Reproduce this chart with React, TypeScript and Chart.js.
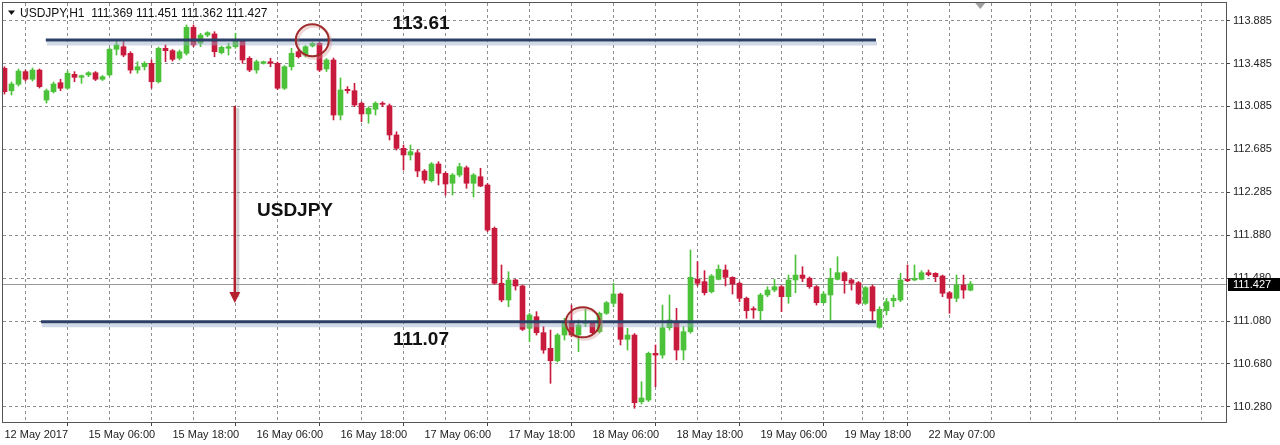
import React, { useEffect, useRef } from 'react';
import { Chart, registerables } from 'chart.js';

Chart.register(...registerables);

// ---- USDJPY H1 candles (bar index 0 = 12 May 2017 18:00) ----
const opens = [
  113.440, 113.231, 113.291, 113.409, 113.338, 113.424, 113.144, 113.222, 113.306, 113.254,
  113.384, 113.356, 113.378, 113.399, 113.338, 113.378, 113.618, 113.642, 113.580, 113.424,
  113.455, 113.487, 113.315, 113.627, 113.605, 113.534, 113.580, 113.823, 113.674, 113.751,
  113.761, 113.586, 113.627, 113.642, 113.698, 113.534, 113.424, 113.487, 113.502, 113.487,
  113.254, 113.455, 113.595, 113.564, 113.649, 113.674, 113.434, 113.518, 113.004, 113.244,
  113.231, 113.114, 113.014, 113.058, 113.114, 113.091, 112.818, 112.693, 112.631, 112.652,
  112.481, 112.391, 112.547, 112.460, 112.367, 112.444, 112.512, 112.367, 112.428, 112.351,
  111.946, 111.433, 111.277, 111.464, 111.408, 111.013, 111.121, 110.972, 110.826, 110.710,
  110.950, 111.059, 110.950, 111.059, 111.059, 110.981, 111.153, 111.246, 111.333, 110.910,
  110.950, 110.327, 110.343, 110.779, 110.763, 111.018, 111.074, 110.810, 110.981, 111.470,
  111.448, 111.354, 111.470, 111.557, 111.489, 111.433, 111.293, 111.196, 111.177, 111.324,
  111.370, 111.401, 111.308, 111.464, 111.510, 111.480, 111.401, 111.252, 111.324, 111.470,
  111.532, 111.464, 111.439, 111.246, 111.401, 111.022, 111.177, 111.270, 111.277, 111.470,
  111.464, 111.470, 111.532, 111.526, 111.501, 111.345, 111.293, 111.417, 111.369,
];
const highs = [
  113.455, 113.312, 113.434, 113.424, 113.443, 113.434, 113.247, 113.312, 113.338, 113.415,
  113.409, 113.378, 113.409, 113.410, 113.373, 113.630, 113.689, 113.689, 113.595, 113.502,
  113.502, 113.518, 113.639, 113.658, 113.616, 113.611, 113.845, 113.845, 113.767, 113.782,
  113.782, 113.649, 113.674, 113.767, 113.705, 113.549, 113.518, 113.508, 113.534, 113.499,
  113.466, 113.627, 113.611, 113.653, 113.686, 113.686, 113.532, 113.536, 113.350, 113.269,
  113.300, 113.126, 113.082, 113.128, 113.128, 113.107, 112.848, 112.724, 112.724, 112.677,
  112.495, 112.561, 112.568, 112.472, 112.458, 112.553, 112.528, 112.458, 112.507, 112.365,
  111.959, 111.604, 111.541, 111.470, 111.417, 111.153, 111.168, 111.028, 110.997, 110.964,
  111.106, 111.230, 111.090, 111.190, 111.074, 111.165, 111.263, 111.433, 111.342, 111.013,
  110.964, 110.514, 110.791, 110.857, 111.230, 111.324, 111.199, 111.028, 111.744, 111.635,
  111.551, 111.515, 111.604, 111.604, 111.494, 111.445, 111.305, 111.214, 111.340, 111.401,
  111.470, 111.412, 111.510, 111.697, 111.588, 111.492, 111.412, 111.354, 111.573, 111.681,
  111.543, 111.473, 111.450, 111.403, 111.417, 111.214, 111.293, 111.324, 111.526, 111.604,
  111.604, 111.551, 111.557, 111.532, 111.510, 111.356, 111.510, 111.510, 111.451,
];
const lows = [
  113.200, 113.191, 113.275, 113.322, 113.322, 113.256, 113.116, 113.210, 113.231, 113.247,
  113.315, 113.300, 113.362, 113.326, 113.326, 113.368, 113.564, 113.549, 113.394, 113.394,
  113.424, 113.254, 113.303, 113.502, 113.508, 113.518, 113.564, 113.642, 113.642, 113.735,
  113.549, 113.574, 113.564, 113.627, 113.487, 113.409, 113.394, 113.480, 113.455, 113.242,
  113.242, 113.424, 113.536, 113.546, 113.639, 113.410, 113.410, 112.958, 112.958, 113.207,
  113.082, 112.942, 112.927, 113.004, 113.082, 112.771, 112.677, 112.491, 112.584, 112.428,
  112.367, 112.379, 112.351, 112.257, 112.257, 112.428, 112.320, 112.239, 112.335, 111.915,
  111.422, 111.261, 111.214, 111.370, 110.992, 110.888, 110.950, 110.779, 110.499, 110.698,
  110.903, 110.934, 110.794, 111.028, 110.959, 110.969, 111.142, 111.214, 110.857, 110.810,
  110.266, 110.306, 110.329, 110.467, 110.733, 110.997, 110.717, 110.717, 110.966, 111.408,
  111.324, 111.342, 111.464, 111.408, 111.333, 111.261, 111.106, 111.106, 111.090, 111.308,
  111.354, 111.168, 111.246, 111.345, 111.448, 111.386, 111.230, 111.246, 111.090, 111.464,
  111.340, 111.370, 111.235, 111.235, 111.090, 111.013, 111.137, 111.214, 111.261, 111.448,
  111.457, 111.464, 111.501, 111.448, 111.308, 111.153, 111.261, 111.293, 111.362,
];
const closes = [
  113.222, 113.294, 113.415, 113.338, 113.424, 113.269, 113.231, 113.294, 113.254, 113.394,
  113.356, 113.371, 113.399, 113.338, 113.362, 113.618, 113.658, 113.564, 113.424, 113.455,
  113.487, 113.315, 113.627, 113.605, 113.524, 113.595, 113.823, 113.658, 113.751, 113.773,
  113.595, 113.636, 113.642, 113.705, 113.518, 113.424, 113.502, 113.502, 113.487, 113.254,
  113.455, 113.580, 113.549, 113.642, 113.674, 113.424, 113.518, 113.004, 113.238, 113.231,
  113.098, 113.014, 113.067, 113.114, 113.104, 112.818, 112.693, 112.631, 112.662, 112.481,
  112.397, 112.547, 112.460, 112.360, 112.444, 112.522, 112.367, 112.444, 112.341, 111.930,
  111.433, 111.277, 111.464, 111.408, 111.003, 111.137, 110.972, 110.810, 110.710, 110.950,
  111.059, 110.950, 111.044, 111.074, 110.972, 111.153, 111.252, 111.333, 110.910, 110.950,
  110.318, 110.362, 110.779, 110.763, 111.018, 111.090, 110.810, 110.981, 111.489, 111.433,
  111.345, 111.501, 111.564, 111.489, 111.426, 111.293, 111.177, 111.184, 111.324, 111.370,
  111.401, 111.308, 111.464, 111.510, 111.480, 111.401, 111.252, 111.333, 111.480, 111.532,
  111.457, 111.433, 111.246, 111.392, 111.174, 111.190, 111.261, 111.293, 111.464, 111.457,
  111.480, 111.532, 111.513, 111.494, 111.340, 111.293, 111.417, 111.370, 111.427,
];

// ---- axes ----
const xTickLabels = [
  '12 May 2017', '15 May 06:00', '15 May 18:00', '16 May 06:00', '16 May 18:00', '17 May 06:00',
  '17 May 18:00', '18 May 06:00', '18 May 18:00', '19 May 06:00', '19 May 18:00', '22 May 07:00',
];
const barsPerLabel = 12;
const barsPerGrid = 6;
const daySeparatorBars = [125, 149];
const xVisibleRange = [-0.2143, 174.5];
const yTickValues = [113.885, 113.485, 113.085, 112.685, 112.285, 111.880, 111.480, 111.080, 110.680, 110.280];
const yTickLabels = ['113.885', '113.485', '113.085', '112.685', '112.285', '111.880', '111.480', '111.080', '110.680', '110.280'];
const yVisibleRange = [110.138, 114.050];

// ---- header & annotations ----
const headerText = 'USDJPY,H1  111.369 111.451 111.362 111.427';
const levelPrices = [113.705, 111.074];
const levelLabels = ['113.61', '111.07'];
const levelStartBars = [5.9, 5.2];
const levelEndBar = 124.5;
const levelLabelBar = 59.5;
const levelLabelPrices = [113.859, 110.903];
const titleLabel = 'USDJPY';
const titleBar = 41.5;
const titlePrice = 112.108;
const arrowBar = 32.9;
const arrowFromPrice = 113.088;
const arrowToPrice = 111.249;
const circleBars = [43.97, 82.6];
const circlePrices = [113.702, 111.069];
const chartShiftBar = 139.4;

const bullColor = '#4cc23a';
const bearColor = '#c81a3c';
const gridColor = '#8e8e8e';
const axisFont = "11px 'Liberation Sans', Arial, sans-serif";

export default function App() {
  const ref = useRef<HTMLCanvasElement | null>(null);

  useEffect(() => {
    const canvas = ref.current;
    if (!canvas) return;
    const n = closes.length;
    const idx = Array.from({ length: n }, (_, i) => i);
    const candleColor = (c: any) => {
      const i = c.dataIndex;
      return closes[i] >= opens[i] ? bullColor : bearColor;
    };

    const overlay = {
      id: 'overlay',
      beforeDatasetsDraw(chart: any) {
        const { ctx, chartArea: a, scales } = chart;
        const py = Math.round(scales.y.getPixelForValue(closes[n - 1])) + 0.5;
        ctx.save();
        ctx.strokeStyle = '#9a9a9a';
        ctx.lineWidth = 1;
        ctx.beginPath();
        ctx.moveTo(a.left, py);
        ctx.lineTo(a.right, py);
        ctx.stroke();
        ctx.restore();
      },
      afterDatasetsDraw(chart: any) {
        const { ctx, scales } = chart;
        const x = scales.x;
        const y = scales.y;
        ctx.save();
        // support / resistance levels
        levelPrices.forEach((p, k) => {
          const py = y.getPixelForValue(p);
          const x1 = x.getPixelForValue(levelStartBars[k]);
          const x2 = x.getPixelForValue(levelEndBar);
          ctx.fillStyle = 'rgba(150,170,200,0.45)';
          ctx.fillRect(x1 + 1, py + 1.5, x2 - x1, 4);
          ctx.strokeStyle = '#2c3f66';
          ctx.lineWidth = 3;
          ctx.beginPath();
          ctx.moveTo(x1, py);
          ctx.lineTo(x2, py);
          ctx.stroke();
          ctx.fillStyle = '#111';
          ctx.font = "bold 19px 'Liberation Sans', Arial, sans-serif";
          ctx.textAlign = 'center';
          ctx.textBaseline = 'middle';
          ctx.fillText(levelLabels[k], x.getPixelForValue(levelLabelBar), y.getPixelForValue(levelLabelPrices[k]));
        });
        // title
        ctx.fillStyle = '#111';
        ctx.font = "bold 19px 'Liberation Sans', Arial, sans-serif";
        ctx.textAlign = 'center';
        ctx.textBaseline = 'middle';
        ctx.fillText(titleLabel, x.getPixelForValue(titleBar), y.getPixelForValue(titlePrice));
        // arrow
        const ax = x.getPixelForValue(arrowBar);
        const ay1 = y.getPixelForValue(arrowFromPrice);
        const ay2 = y.getPixelForValue(arrowToPrice);
        ctx.strokeStyle = 'rgba(120,120,120,0.35)';
        ctx.lineWidth = 3;
        ctx.beginPath();
        ctx.moveTo(ax + 3, ay1 + 2);
        ctx.lineTo(ax + 3, ay2 - 6);
        ctx.stroke();
        ctx.strokeStyle = '#b5202e';
        ctx.lineWidth = 2.5;
        ctx.beginPath();
        ctx.moveTo(ax, ay1);
        ctx.lineTo(ax, ay2 - 8);
        ctx.stroke();
        ctx.fillStyle = '#b5202e';
        ctx.beginPath();
        ctx.moveTo(ax - 5.5, ay2 - 11);
        ctx.lineTo(ax + 5.5, ay2 - 11);
        ctx.lineTo(ax, ay2);
        ctx.closePath();
        ctx.fill();
        // circles
        const radii = [[16.5, 16], [17, 15]];
        circleBars.forEach((b, k) => {
          const cx = x.getPixelForValue(b);
          const cy = y.getPixelForValue(circlePrices[k]);
          ctx.strokeStyle = 'rgba(210,140,140,0.35)';
          ctx.lineWidth = 3;
          ctx.beginPath();
          ctx.ellipse(cx + 2, cy + 2, radii[k][0], radii[k][1], 0, 0, Math.PI * 2);
          ctx.stroke();
          ctx.strokeStyle = '#9e2a2b';
          ctx.lineWidth = 2;
          ctx.beginPath();
          ctx.ellipse(cx, cy, radii[k][0], radii[k][1], 0, 0, Math.PI * 2);
          ctx.stroke();
        });
        ctx.restore();
      },
      afterDraw(chart: any) {
        const { ctx, chartArea: a, scales } = chart;
        ctx.save();
        // frame
        ctx.strokeStyle = '#555';
        ctx.lineWidth = 1;
        ctx.strokeRect(a.left - 0.5, a.top - 0.5, a.right - a.left + 1, a.bottom - a.top + 1);
        // header
        ctx.fillStyle = '#111';
        ctx.beginPath();
        ctx.moveTo(8, 10.5);
        ctx.lineTo(15, 10.5);
        ctx.lineTo(11.5, 15);
        ctx.closePath();
        ctx.fill();
        ctx.font = "12px 'Liberation Sans', Arial, sans-serif";
        ctx.textAlign = 'left';
        ctx.textBaseline = 'alphabetic';
        ctx.fillText(headerText, 20, 17);
        // chart shift marker
        const sx = scales.x.getPixelForValue(chartShiftBar);
        ctx.fillStyle = '#a0a0a0';
        ctx.beginPath();
        ctx.moveTo(sx - 5, a.top);
        ctx.lineTo(sx + 5, a.top);
        ctx.lineTo(sx, a.top + 6);
        ctx.closePath();
        ctx.fill();
        // current price box
        const last = closes[n - 1];
        const py = Math.round(scales.y.getPixelForValue(last)) + 0.5;
        ctx.fillStyle = '#000';
        ctx.fillRect(a.right + 2, py - 6.5, 52, 13);
        ctx.fillStyle = '#fff';
        ctx.font = axisFont;
        ctx.textBaseline = 'middle';
        ctx.fillText(last.toFixed(3), a.right + 7, py + 0.5);
        ctx.restore();
      },
    };

    const xTicks: number[] = [];
    for (let v = 0; v <= xVisibleRange[1]; v += barsPerGrid) xTicks.push(v);
    daySeparatorBars.forEach((b) => xTicks.push(b));
    xTicks.sort((p, q) => p - q);
    const isLabelTick = (v: number) => v % barsPerLabel === 0 && v / barsPerLabel < xTickLabels.length;

    const chart = new Chart(canvas, {
      type: 'bar',
      data: {
        datasets: [
          {
            label: 'wick',
            data: idx.map((i) => ({ x: i, y: [lows[i], highs[i]] })) as any,
            backgroundColor: candleColor as any,
            borderWidth: 0,
            barThickness: 1,
            grouped: false,
            order: 2,
          } as any,
          {
            label: 'body',
            data: idx.map((i) => ({ x: i, y: [opens[i], closes[i]] })) as any,
            backgroundColor: candleColor as any,
            borderWidth: 0,
            barThickness: 5,
            minBarLength: 1,
            grouped: false,
            order: 1,
          } as any,
        ],
      },
      options: {
        animation: false,
        responsive: true,
        maintainAspectRatio: false,
        layout: { padding: { left: 3, top: 3, right: 0, bottom: 0 } },
        plugins: { legend: { display: false }, tooltip: { enabled: false } },
        scales: {
          x: {
            type: 'linear',
            min: xVisibleRange[0],
            max: xVisibleRange[1],
            offset: false,
            afterBuildTicks: (s: any) => {
              s.ticks = xTicks.map((v) => ({ value: v }));
            },
            afterFit: (s: any) => {
              s.height = 23;
              s.paddingLeft = 0;
              s.paddingRight = 0;
            },
            grid: {
              color: gridColor,
              lineWidth: 1,
              drawTicks: true,
              tickLength: 4,
              tickColor: (c: any) => (c.tick && isLabelTick(c.tick.value) ? '#444' : 'rgba(0,0,0,0)'),
            },
            border: { display: false, dash: [3, 3] },
            ticks: {
              autoSkip: false,
              maxRotation: 0,
              minRotation: 0,
              align: 'start',
              padding: 2,
              color: '#222',
              font: { family: "'Liberation Sans', Arial, sans-serif", size: 11 },
              callback: (v: any) => {
                const b = Number(v);
                return isLabelTick(b) ? xTickLabels[b / barsPerLabel] : '';
              },
            },
          } as any,
          y: {
            type: 'linear',
            position: 'right',
            min: yVisibleRange[0],
            max: yVisibleRange[1],
            afterBuildTicks: (s: any) => {
              s.ticks = yTickValues.map((v) => ({ value: v }));
            },
            afterFit: (s: any) => {
              s.width = 54;
              s.paddingTop = 0;
              s.paddingBottom = 0;
            },
            grid: {
              color: gridColor,
              lineWidth: 1,
              drawTicks: true,
              tickLength: 4,
              tickColor: '#444',
            },
            border: { display: false, dash: [3, 3] },
            ticks: {
              padding: 3,
              color: '#222',
              font: { family: "'Liberation Sans', Arial, sans-serif", size: 11 },
              callback: (_v: any, i: number) => yTickLabels[i],
            },
          } as any,
        },
      },
      plugins: [overlay],
    });

    return () => chart.destroy();
  }, []);

  return (
    <div style={{ position: 'fixed', left: 0, top: 0, width: 1280, height: 445, background: '#ffffff' }}>
      <canvas ref={ref} />
    </div>
  );
}
